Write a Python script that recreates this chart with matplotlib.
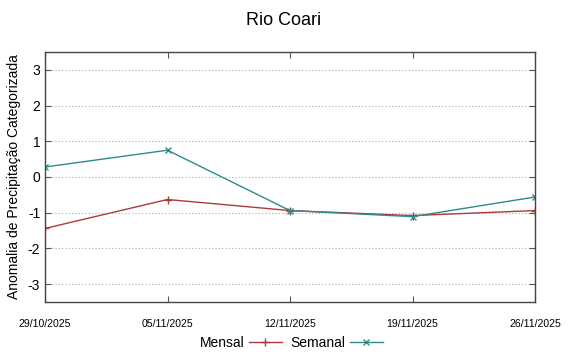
import matplotlib
matplotlib.use("Agg")
import matplotlib.pyplot as plt
from matplotlib.lines import Line2D

plt.rcParams['font.family'] = ['Liberation Sans', 'DejaVu Sans']

dates = ["29/10/2025", "05/11/2025", "12/11/2025", "19/11/2025", "26/11/2025"]
mensal = [-1.44, -0.63, -0.94, -1.08, -0.94]
semanal = [0.28, 0.75, -0.94, -1.11, -0.56]
yticks = [-3, -2, -1, 0, 1, 2, 3]

c_mensal = "#b03a3a"
c_semanal = "#2e8b8b"

fig = plt.figure(figsize=(5.68, 3.52), dpi=100)
ax = fig.add_axes([45/568, 50/352, 490/568, 250/352])
x = list(range(len(dates)))
ax.plot(x, mensal, color=c_mensal, lw=1.0, marker='+', ms=6, mew=1.0)
ax.plot(x, semanal, color=c_semanal, lw=1.0, marker='x', ms=5, mew=1.0)

ax.set_xlim(0, len(dates) - 1)
ax.set_ylim(-3.5, 3.5)
ax.set_xticks(x)
ax.set_xticklabels(dates, fontsize=7.6)
ax.set_yticks(yticks)
ax.set_yticklabels([str(v) for v in yticks], fontsize=10)
ax.tick_params(direction='in', top=True, right=True, length=4, color='#555555')
ax.tick_params(axis='x', pad=12)
ax.grid(True, axis='y', linestyle=(0, (1, 2)), color='#aaaaaa', lw=0.8)
for s in ax.spines.values():
    s.set_color('#444444')
    s.set_linewidth(1.0)
ax.set_ylabel("Anomalia de Precipitação Categorizada", fontsize=10, labelpad=5)
fig.suptitle("Rio Coari", fontsize=13, y=0.965)

handles = [Line2D([], [], color=c_mensal, marker='+', lw=1.0, ms=6),
           Line2D([], [], color=c_semanal, marker='x', lw=1.0, ms=5)]
leg = fig.legend(handles, ["Mensal", "Semanal"], loc='lower center',
                 bbox_to_anchor=(0.513, 0.003), ncol=2, frameon=False,
                 fontsize=10, markerfirst=False, handlelength=2.4,
                 columnspacing=0.6, handletextpad=0.3, borderpad=0.1,
                 borderaxespad=0.0)

fig.savefig("out.png", dpi=100)
